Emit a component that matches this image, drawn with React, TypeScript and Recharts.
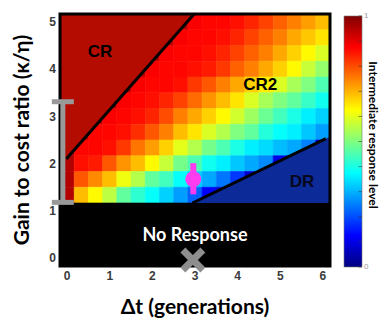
import React from 'react';
import {
  ComposedChart,
  XAxis,
  YAxis,
  ReferenceArea,
  ReferenceLine,
  ReferenceDot,
  Scatter,
  ErrorBar,
} from 'recharts';

// ---- grid categories ----
const dtSteps = [0, 1 / 3, 2 / 3, 1, 4 / 3, 5 / 3, 2, 7 / 3, 8 / 3, 3, 10 / 3, 11 / 3, 4, 13 / 3, 14 / 3, 5, 16 / 3, 17 / 3, 6];
const ratioRows = [5, 14 / 3, 13 / 3, 4, 11 / 3, 10 / 3, 3, 8 / 3, 7 / 3, 2, 5 / 3, 4 / 3];

// ---- intermediate response level, one row per gain-to-cost ratio ----
const level500 = [0.95, 0.95, 0.95, 0.95, 0.95, 0.95, 0.95, 0.95, 0.95, 0.88, 0.87, 0.87, 0.86, 0.84, 0.81, 0.78, 0.75, 0.72, 0.69];
const level467 = [0.95, 0.95, 0.95, 0.95, 0.95, 0.95, 0.95, 0.95, 0.88, 0.87, 0.87, 0.86, 0.84, 0.81, 0.78, 0.75, 0.71, 0.68, 0.65];
const level433 = [0.95, 0.95, 0.95, 0.95, 0.95, 0.95, 0.95, 0.88, 0.87, 0.87, 0.86, 0.84, 0.81, 0.78, 0.75, 0.71, 0.67, 0.63, 0.59];
const level400 = [0.95, 0.95, 0.95, 0.95, 0.95, 0.95, 0.88, 0.87, 0.87, 0.86, 0.85, 0.82, 0.78, 0.75, 0.71, 0.67, 0.63, 0.57, 0.52];
const level367 = [0.95, 0.95, 0.95, 0.95, 0.95, 0.88, 0.87, 0.87, 0.86, 0.82, 0.79, 0.75, 0.71, 0.67, 0.64, 0.59, 0.54, 0.5, 0.45];
const level333 = [0.95, 0.95, 0.95, 0.95, 0.88, 0.87, 0.86, 0.84, 0.81, 0.77, 0.73, 0.69, 0.65, 0.59, 0.54, 0.5, 0.47, 0.43, 0.39];
const level300 = [0.95, 0.95, 0.95, 0.88, 0.87, 0.86, 0.84, 0.8, 0.75, 0.71, 0.67, 0.63, 0.58, 0.53, 0.48, 0.44, 0.4, 0.36, 0.33];
const level267 = [0.95, 0.95, 0.87, 0.87, 0.86, 0.83, 0.79, 0.75, 0.69, 0.65, 0.59, 0.55, 0.5, 0.47, 0.41, 0.38, 0.36, 0.32, 0.28];
const level233 = [0.95, 0.87, 0.87, 0.86, 0.82, 0.76, 0.72, 0.67, 0.6, 0.55, 0.49, 0.45, 0.4, 0.36, 0.34, 0.31, 0.29, 0.25, 0.1];
const level200 = [0.95, 0.86, 0.85, 0.79, 0.73, 0.69, 0.63, 0.57, 0.49, 0.45, 0.39, 0.36, 0.32, 0.29, 0.26, 0.1, 0.08, 0.08, 0.08];
const level167 = [0.95, 0.79, 0.74, 0.69, 0.61, 0.55, 0.47, 0.44, 0.38, 0.33, 0.29, 0.24, 0.18, 0.08, 0.08, 0.08, 0.08, 0.08, 0.08];
const level133 = [0.95, 0.69, 0.63, 0.56, 0.47, 0.42, 0.38, 0.33, 0.28, 0.22, 0.12, 0.08, 0.08, 0.08, 0.08, 0.08, 0.08, 0.08, 0.08];
const responseLevels = [level500, level467, level433, level400, level367, level333, level300, level267, level233, level200, level167, level133];

// ---- axes ----
const xTicks = [0, 1, 2, 3, 4, 5, 6];
const yTicks = [0, 1, 2, 3, 4, 5];
const xDomain = [-1 / 6, 37 / 6];
const yDomain = [-1 / 6, 31 / 6];
const noResponseTop = 7 / 6;

// ---- regime boundaries and markers ----
const crBoundary = [{ x: -0.02, y: 2.1 }, { x: 2.98, y: 31 / 6 }];
const crRegion = { x1: -1 / 6, x2: 2.98, y1: 1.95, y2: 31 / 6 };
const drBoundary = [{ x: 2.94, y: 7 / 6 }, { x: 6.07, y: 2.53 }];
const drRegion = { x1: 2.94, x2: 37 / 6, y1: 7 / 6, y2: 2.57 };
const observedPoint = [{ x: 2.96, y: 1.67, err: [0.32, 0.34] }];
const rangeBar = [{ x: -0.1, y: 2.245, err: 1.065 }];
const predictedPoint = [{ x: 2.95, y: -0.04 }];
const regimeLabels = [
  { text: 'CR', x: 0.77, y: 4.38, color: '#000' },
  { text: 'CR2', x: 4.53, y: 3.68, color: '#000' },
  { text: 'DR', x: 5.51, y: 1.63, color: '#06081e' },
];
const colorbarTicks = [0, 0.1, 0.2, 0.3, 0.4, 0.5, 0.6, 0.7, 0.8, 0.9, 1];
const jetStops = [0, 0.125, 0.375, 0.625, 0.875, 1];

const CR_COLOR = '#b40c00';
const DR_COLOR = '#0c2a98';
const FONT = 'Lato, "DejaVu Sans", sans-serif';

function jet(v: number): string {
  const c = (t: number) => Math.max(0, Math.min(1, t));
  const r = c(Math.min(4 * v - 1.5, -4 * v + 4.5));
  const g = c(Math.min(4 * v - 0.5, -4 * v + 3.5));
  const b = c(Math.min(4 * v + 0.5, -4 * v + 2.5));
  return `rgb(${Math.round(r * 255)},${Math.round(g * 255)},${Math.round(b * 255)})`;
}

const crTriangle = (p: any) => (
  <path d={`M${p.x},${p.y}L${p.x + p.width},${p.y}L${p.x},${p.y + p.height}Z`} fill={CR_COLOR} />
);
const drTriangle = (p: any) => (
  <path d={`M${p.x},${p.y + p.height}L${p.x + p.width},${p.y + p.height}L${p.x + p.width},${p.y}Z`} fill={DR_COLOR} />
);

const textShape = (text: string, color: string, size: number, font: string) => (p: any) => (
  <text
    x={p.cx}
    y={p.cy}
    textAnchor="middle"
    dominantBaseline="central"
    fill={color}
    fontSize={size}
    fontWeight={700}
    fontFamily={font}
  >
    {text}
  </text>
);

const tickStyle = { fontSize: 12, fontWeight: 700, fill: '#3a3a3a', fontFamily: '"Liberation Sans", Arial, sans-serif' };

export default function App() {
  const cells: React.ReactNode[] = [];
  responseLevels.forEach((row, ri) => {
    row.forEach((v, ci) => {
      const col = jet(v);
      cells.push(
        <ReferenceArea
          key={`c${ri}-${ci}`}
          x1={dtSteps[ci] - 1 / 6}
          x2={dtSteps[ci] + 1 / 6}
          y1={ratioRows[ri] - 1 / 6}
          y2={ratioRows[ri] + 1 / 6}
          fill={col}
          fillOpacity={1}
          stroke={col}
          strokeWidth={0.6}
          ifOverflow="hidden"
        />
      );
    });
  });

  return (
    <div style={{ position: 'absolute', left: 0, top: 0, width: 381, height: 321, background: '#fff' }}>
      <ComposedChart width={381} height={321} margin={{ top: 14, right: 51, bottom: 25, left: 20 }}>
        <XAxis
          type="number"
          dataKey="x"
          domain={xDomain}
          ticks={xTicks}
          interval={0}
          axisLine={false}
          tickLine={false}
          tickSize={4}
          tickMargin={1}
          height={30}
          tick={tickStyle}
          label={{
            content: (p: any) => {
              const vb = p.viewBox || { x: 60, y: 266, width: 270 };
              return (
                <text
                  x={vb.x + vb.width / 2}
                  y={vb.y + 39}
                  textAnchor="middle"
                  dominantBaseline="central"
                  fontSize={21}
                  fontWeight={700}
                  fontFamily={FONT}
                  fill="#000"
                >
                  Δt (generations)
                </text>
              );
            },
          }}
        />
        <YAxis
          type="number"
          dataKey="y"
          domain={yDomain}
          ticks={yTicks}
          interval={0}
          axisLine={false}
          tickLine={false}
          tickSize={4}
          tickMargin={0}
          width={40}
          tick={tickStyle}
          label={{
            content: (p: any) => {
              const vb = p.viewBox || { x: 20, y: 14, height: 252 };
              const cx = vb.x;
              const cy = vb.y + vb.height / 2;
              return (
                <text
                  transform={`translate(${cx},${cy}) rotate(-90)`}
                  textAnchor="middle"
                  dominantBaseline="central"
                  fontSize={21}
                  fontWeight={700}
                  fontFamily={FONT}
                  fill="#000"
                >
                  Gain to cost ratio (κ/η)
                </text>
              );
            },
          }}
        />
        {cells}
        <ReferenceArea
          x1={xDomain[0]}
          x2={xDomain[1]}
          y1={yDomain[0]}
          y2={noResponseTop}
          fill="#000"
          fillOpacity={1}
          stroke="#000"
          strokeWidth={0.6}
          ifOverflow="hidden"
        />
        <ReferenceArea {...crRegion} ifOverflow="hidden" shape={crTriangle} />
        <ReferenceArea {...drRegion} ifOverflow="hidden" shape={drTriangle} />
        <ReferenceArea
          x1={xDomain[0]}
          x2={xDomain[1]}
          y1={yDomain[0]}
          y2={yDomain[1]}
          fill="none"
          fillOpacity={0}
          stroke="#000"
          strokeWidth={3}
          ifOverflow="visible"
        />
        <ReferenceLine segment={crBoundary} stroke="#000" strokeWidth={3} ifOverflow="visible" />
        <ReferenceLine segment={drBoundary} stroke="#000" strokeWidth={3} ifOverflow="visible" />
        <Scatter data={rangeBar} dataKey="y" isAnimationActive={false} shape={() => <g />}>
          <ErrorBar dataKey="err" direction="y" width={11} stroke="#999999" strokeWidth={5} isAnimationActive={false} />
        </Scatter>
        <Scatter
          data={observedPoint}
          dataKey="y"
          isAnimationActive={false}
          shape={(p: any) => <circle cx={p.cx} cy={p.cy} r={8} fill="#ff3cf0" />}
        >
          <ErrorBar dataKey="err" direction="y" width={0} stroke="#ff3cf0" strokeWidth={6} isAnimationActive={false} />
        </Scatter>
        <Scatter
          data={predictedPoint}
          dataKey="y"
          isAnimationActive={false}
          shape={(p: any) => (
            <g stroke="#8e8e8e" strokeWidth={7}>
              <line x1={p.cx - 10} y1={p.cy - 10} x2={p.cx + 10} y2={p.cy + 10} />
              <line x1={p.cx - 10} y1={p.cy + 10} x2={p.cx + 10} y2={p.cy - 10} />
            </g>
          )}
        />
        {regimeLabels.map((l) => (
          <ReferenceDot
            key={l.text}
            x={l.x}
            y={l.y}
            r={0}
            shape={textShape(l.text, l.color, 17, '"Liberation Sans", Arial, sans-serif')}
          />
        ))}
        <ReferenceDot x={3} y={0.51} r={0} shape={textShape('No Response', '#fff', 18, FONT)} />
      </ComposedChart>
      <svg width={381} height={321} style={{ position: 'absolute', left: 0, top: 0, pointerEvents: 'none' }}>
        <defs>
          <linearGradient id="jetGrad" x1="0" y1="1" x2="0" y2="0">
            {jetStops.map((s) => (
              <stop key={s} offset={s} stopColor={jet(s)} />
            ))}
          </linearGradient>
        </defs>
        <rect x={344} y={16} width={18} height={251} fill="url(#jetGrad)" stroke="#777" strokeWidth={0.6} />
        {colorbarTicks.map((t) => (
          <line key={t} x1={358.5} x2={362} y1={267 - t * 251} y2={267 - t * 251} stroke="#333" strokeWidth={0.6} />
        ))}
        <text x={364} y={18} fontSize={8} fill="#999" fontFamily="Arial, sans-serif">1</text>
        <text x={364} y={269} fontSize={8} fill="#999" fontFamily="Arial, sans-serif">0</text>
        <text
          transform="translate(373,135) rotate(90)"
          textAnchor="middle"
          dominantBaseline="central"
          fontSize={12}
          fontWeight={700}
          fontFamily={FONT}
          fill="#000"
        >
          Intermediate response level
        </text>
      </svg>
    </div>
  );
}
